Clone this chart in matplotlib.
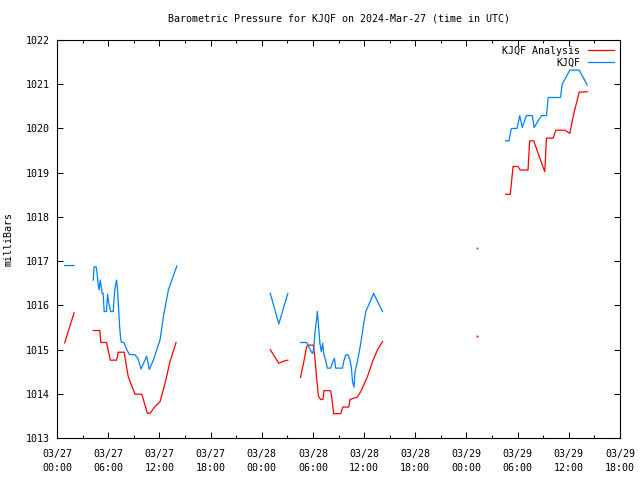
import numpy as np
import matplotlib
matplotlib.use('Agg')
import matplotlib.pyplot as plt
from matplotlib.ticker import MultipleLocator

nan = np.nan

# hours since 2024-03-27 00:00 UTC, gaps are nan
obs_hours = [0.9, 2.0, nan,
             4.24, 4.35, 4.59, 4.71, 4.82, 4.94, 5.06, 5.18, 5.29, 5.41, 5.53, 5.81,
             5.93, 6.05, 6.16, 6.28, 6.59, 6.71, 6.82, 6.99, 7.11, 7.22, 7.34, 7.46,
             7.55, 7.85, 8.16, 8.47, 9.14, 9.49, 9.85, 10.24, 10.52, 10.82, 11.29,
             12.08, 12.47, 13.06, 14.05, nan,
             25.0, 26.0, 27.06, nan,
             28.55, 29.26, 29.53, 29.81, 29.96, 30.12, 30.24, 30.4, 30.52, 30.67,
             30.82, 30.99, 31.14, 31.29, 31.49, 31.69, 32.08, 32.4, 32.52, 32.67,
             33.46, 33.65, 33.85, 34.12, 34.35, 34.52, 34.64, 34.82, 34.94, 35.22,
             35.61, 35.93, 36.2, 36.79, 37.11, 38.16, nan,
             49.18, nan,
             52.59, 52.99, 53.26, 53.93, 54.24, 54.55, 55.02, 55.73, 55.93, 56.79,
             57.38, 57.58, 59.02, 59.22, 60.12, 61.22, 62.16]
obs_pres = [1016.9, 1016.9, nan,
            1016.57, 1016.87, 1016.87, 1016.72, 1016.46, 1016.35, 1016.57, 1016.42,
            1016.27, 1016.27, 1015.86, 1015.86, 1016.25, 1016.08, 1015.97, 1015.86,
            1015.86, 1016.2, 1016.42, 1016.57, 1016.31, 1015.93, 1015.52, 1015.25,
            1015.16, 1015.16, 1015.01, 1014.89, 1014.88, 1014.8, 1014.56, 1014.73,
            1014.85, 1014.55, 1014.76, 1015.22, 1015.74, 1016.35, 1016.89, nan,
            1016.27, 1015.58, 1016.27, nan,
            1015.16, 1015.16, 1015.06, 1014.95, 1014.91, 1015.06, 1015.4, 1015.63,
            1015.86, 1015.52, 1015.14, 1014.95, 1015.14, 1014.88, 1014.76, 1014.58,
            1014.58, 1014.76, 1014.8, 1014.58, 1014.58, 1014.76, 1014.88, 1014.88,
            1014.76, 1014.58, 1014.27, 1014.15, 1014.5, 1014.73, 1015.14, 1015.55,
            1015.86, 1016.12, 1016.27, 1015.86, nan,
            1017.29, nan,
            1019.72, 1019.72, 1020.0, 1020.0, 1020.29, 1020.02, 1020.29, 1020.29,
            1020.02, 1020.29, 1020.29, 1020.7, 1020.7, 1021.0, 1021.32, 1021.32,
            1020.98]

ana_hours = [0.9, 2.0, nan,
             4.24, 5.02, 5.14, 5.81, 6.0, 6.24, 6.99, 7.18, 7.88, 8.05, 8.35, 8.64,
             9.14, 9.93, 10.2, 10.59, 10.91, 11.49, 12.08, 12.67, 13.25, 13.96, nan,
             25.0, 26.0, 26.6, 27.06, nan,
             28.55, 28.94, 29.26, 29.41, 30.05, 30.2, 30.44, 30.64, 30.91, 31.18,
             31.29, 32.08, 32.24, 32.44, 33.27, 33.5, 34.2, 34.35, 35.22, 35.61,
             36.4, 36.99, 37.58, 38.16, nan,
             49.18, nan,
             52.59, 53.14, 53.46, 54.05, 54.3, 55.22, 55.41, 55.88, 57.18, 57.38,
             58.16, 58.47, 59.53, 60.12, 60.59, 61.22, 62.16]
ana_pres = [1015.15, 1015.83, nan,
            1015.43, 1015.43, 1015.16, 1015.16, 1014.99, 1014.76, 1014.76, 1014.94,
            1014.94, 1014.73, 1014.39, 1014.24, 1013.99, 1013.99, 1013.82, 1013.56,
            1013.56, 1013.71, 1013.82, 1014.24, 1014.73, 1015.16, nan,
            1015.0, 1014.69, 1014.74, 1014.76, nan,
            1014.37, 1014.73, 1015.06, 1015.1, 1015.1, 1014.88, 1014.35, 1013.95,
            1013.87, 1013.87, 1014.07, 1014.07, 1013.87, 1013.55, 1013.55, 1013.7,
            1013.7, 1013.87, 1013.93, 1014.05, 1014.39, 1014.73, 1015.0, 1015.18, nan,
            1015.3, nan,
            1018.51, 1018.51, 1019.14, 1019.14, 1019.06, 1019.06, 1019.72, 1019.72,
            1019.02, 1019.78, 1019.78, 1019.96, 1019.96, 1019.89, 1020.34, 1020.82,
            1020.83]

tick_hours = list(range(0, 67, 6))
tick_labels = ['03/27\n00:00', '03/27\n06:00', '03/27\n12:00', '03/27\n18:00',
               '03/28\n00:00', '03/28\n06:00', '03/28\n12:00', '03/28\n18:00',
               '03/29\n00:00', '03/29\n06:00', '03/29\n12:00', '03/29\n18:00']

plt.rcParams['font.family'] = ['DejaVu Sans Mono']
plt.rcParams['font.size'] = 7.2

fig = plt.figure(figsize=(6.4, 4.8), dpi=100)
ax = fig.add_axes([57 / 640, 42 / 480, 563 / 640, 398 / 480])


def draw(hours, pres, color, label):
    h = np.array(hours)
    p = np.array(pres)
    ax.plot(h, p, color=color, lw=0.9, label=label)
    # single points between gaps show up as dots
    for i in range(len(p)):
        if np.isnan(p[i]):
            continue
        before = i == 0 or np.isnan(p[i - 1])
        after = i == len(p) - 1 or np.isnan(p[i + 1])
        if before and after:
            ax.plot(h[i], p[i], marker='s', ms=1.3, mew=0, color=color)


draw(ana_hours, ana_pres, '#ff0000', 'KJQF Analysis')
draw(obs_hours, obs_pres, '#0080ff', 'KJQF')

ax.set_xlim(0, 66)
ax.set_ylim(1013, 1022)
ax.set_xticks(tick_hours)
ax.set_xticklabels(tick_labels, linespacing=1.45)
ax.xaxis.set_minor_locator(MultipleLocator(3))
ax.yaxis.set_major_locator(MultipleLocator(1))
ax.tick_params(which='both', direction='in', top=True, right=True, width=0.75)
ax.tick_params(which='major', length=4)
ax.tick_params(axis='x', which='major', pad=8)
ax.tick_params(axis='y', which='major', pad=5)
ax.tick_params(which='minor', length=2)
for s in ax.spines.values():
    s.set_linewidth(0.8)

ax.set_ylabel('milliBars', labelpad=9)
ax.set_title('Barometric Pressure for KJQF on 2024-Mar-27 (time in UTC)',
             fontsize=7.2, pad=13.5)

ax.legend(loc='upper right', frameon=False, markerfirst=False, handlelength=2.6,
          handletextpad=0.8, labelspacing=0.2, borderaxespad=0.2)

plt.savefig('out.png', dpi=100)
plt.close()
